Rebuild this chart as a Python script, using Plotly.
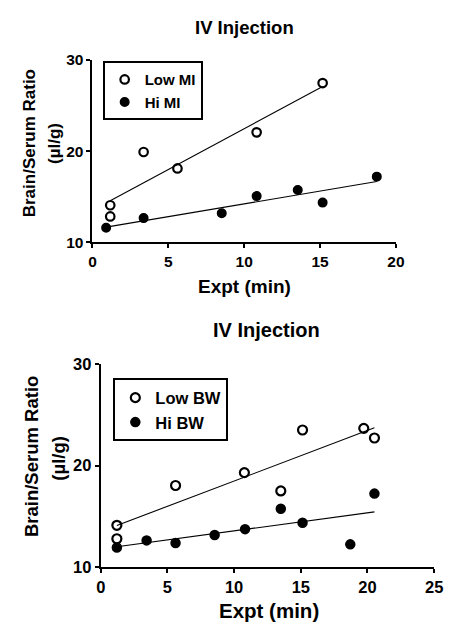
import numpy as np
import plotly.graph_objects as go

# ---- data (top panel: IV Injection, MI) ----
low_mi_x = [1.17, 1.17, 3.37, 5.6, 10.82, 15.17]
low_mi_y = [14.07, 12.84, 19.9, 18.1, 22.05, 27.45]
hi_mi_x = [0.9, 3.37, 8.52, 10.82, 13.53, 15.17, 18.74]
hi_mi_y = [11.6, 12.66, 13.19, 15.07, 15.74, 14.36, 17.2]

# ---- data (bottom panel: IV Injection, BW) ----
low_bw_x = [1.21, 1.21, 5.61, 10.77, 13.5, 15.13, 19.72, 20.52]
low_bw_y = [14.11, 12.78, 18.04, 19.31, 17.5, 23.52, 23.68, 22.73]
hi_bw_x = [1.21, 3.44, 5.61, 8.54, 10.82, 13.5, 15.13, 18.71, 20.52]
hi_bw_y = [11.91, 12.62, 12.36, 13.16, 13.73, 15.74, 14.37, 12.23, 17.24]

top_xticks = [0, 5, 10, 15, 20]
bot_xticks = [0, 5, 10, 15, 20, 25]
yticks = [10, 20, 30]

FONT = "Liberation Sans, Arial, sans-serif"

fig = go.Figure()

def add_series(x, y, name, filled, xa, ya, legend, size, lw):
    fig.add_trace(go.Scatter(
        x=x, y=y, mode="markers", name=name, xaxis=xa, yaxis=ya, legend=legend,
        marker=dict(symbol="circle" if filled else "circle-open", size=size,
                    color="black", line=dict(color="black", width=lw)),
    ))
    m, b = np.polyfit(x, y, 1)
    xs = np.array([min(x), max(x)])
    fig.add_trace(go.Scatter(
        x=xs, y=m * xs + b, mode="lines", showlegend=False, xaxis=xa, yaxis=ya,
        line=dict(color="black", width=1.1), hoverinfo="skip",
    ))

add_series(low_mi_x, low_mi_y, "Low MI", False, "x", "y", "legend", 8.5, 2.2)
add_series(hi_mi_x, hi_mi_y, "Hi MI", True, "x", "y", "legend", 8.5, 1.5)
add_series(low_bw_x, low_bw_y, "Low BW", False, "x2", "y2", "legend2", 9, 2.2)
add_series(hi_bw_x, hi_bw_y, "Hi BW", True, "x2", "y2", "legend2", 9, 1.5)

W, H = 457, 634
OFF = 8  # page body margin shifts the figure by this many pixels

def px_x(x):
    return (x - OFF) / W

def px_y(y):
    return 1 - (y - OFF) / H

top_px = dict(x0=90, x1=403, y0=52, y1=240)
bot_px = dict(x0=98.5, x1=442.5, y0=365.5, y1=574)

def dom(p):
    return [px_x(p["x0"]), px_x(p["x1"])], [px_y(p["y1"]), px_y(p["y0"])]

tx, ty = dom(top_px)
bx, by = dom(bot_px)

axis_common = dict(showgrid=False, zeroline=False, showline=True, linecolor="black",
                   linewidth=2, ticks="outside", ticklen=4, tickwidth=2, tickcolor="black",
                   mirror=False)

def tickfont(sz):
    return dict(family=FONT, size=sz, color="black", weight="bold")

fig.update_layout(
    width=W, height=H, margin=dict(l=0, r=0, t=0, b=0),
    paper_bgcolor="white", plot_bgcolor="white",
    font=dict(family=FONT, color="black"),
    xaxis=dict(domain=tx, range=[0, 20], tickvals=top_xticks, anchor="y",
               tickfont=tickfont(15.5), **axis_common),
    yaxis=dict(domain=ty, range=[10, 30], tickvals=yticks, anchor="x",
               tickfont=tickfont(15.5), **axis_common),
    xaxis2=dict(domain=bx, range=[0, 25], tickvals=bot_xticks, anchor="y2",
                tickfont=tickfont(16.5), **axis_common),
    yaxis2=dict(domain=by, range=[10, 30], tickvals=yticks, anchor="x2",
                tickfont=tickfont(16.5), **axis_common),
    legend=dict(x=px_x(100.5), y=px_y(53.5), xanchor="left", yanchor="top",
                bordercolor="black", borderwidth=2, bgcolor="white",
                font=dict(family=FONT, size=15, color="black", weight="bold"),
                tracegroupgap=0, itemwidth=30),
    legend2=dict(x=px_x(111.5), y=px_y(380), xanchor="left", yanchor="top",
                 bordercolor="black", borderwidth=2, bgcolor="white",
                 font=dict(family=FONT, size=16.5, color="black", weight="bold"),
                 tracegroupgap=0, itemwidth=30),
    showlegend=True,
)

def ann(text, xpx, ypx, size, angle=0):
    fig.add_annotation(text=text, x=px_x(xpx), y=px_y(ypx), xref="paper", yref="paper",
                       showarrow=False, textangle=angle, xanchor="center", yanchor="middle",
                       font=dict(family=FONT, size=size, color="black", weight="bold"))

ann("IV Injection", 247, 19, 18.5)
ann("IV Injection", 270, 330, 20)
ann("Expt (min)", 247, 285, 19)
ann("Expt (min)", 272, 619, 20.5)
ann("Brain/Serum Ratio", 25, 137.5, 17, -90)
ann("(µl/g)", 51, 138, 17, -90)
ann("Brain/Serum Ratio", 27, 460.5, 18.5, -90)
ann("(µl/g)", 55, 462, 18.5, -90)

fig.write_html("out.html")
